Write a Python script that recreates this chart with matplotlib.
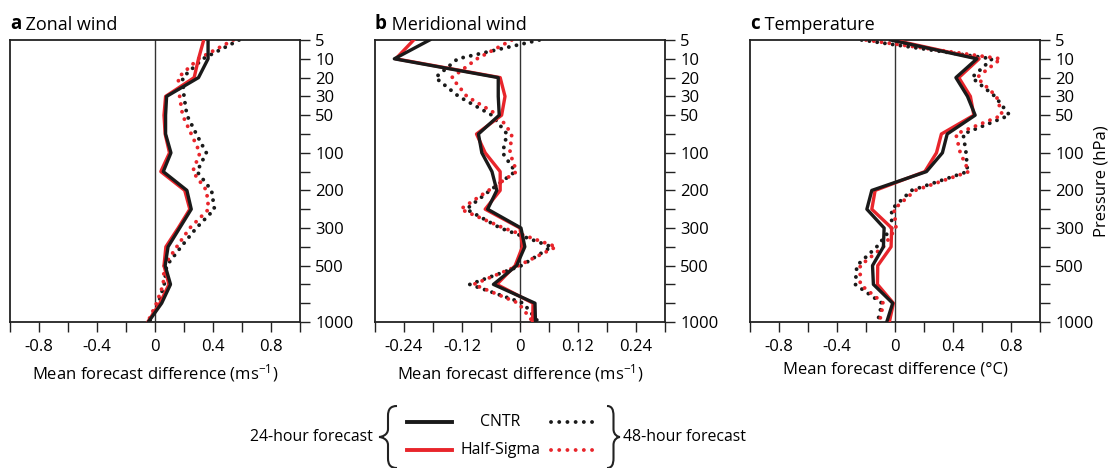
import numpy as np
import matplotlib.pyplot as plt
from matplotlib.path import Path
from matplotlib.patches import PathPatch

plt.rcParams['font.family'] = ['Open Sans', 'DejaVu Sans']
plt.rcParams['mathtext.fontset'] = 'custom'
plt.rcParams['mathtext.rm'] = 'Open Sans'
plt.rcParams['mathtext.it'] = 'Open Sans'

RED = '#E8252B'

levels = [5, 10, 20, 30, 50, 70, 100, 150, 200, 250, 300, 400, 500, 700, 850, 1000]
level_labels = ['5', '10', '20', '30', '50', '', '100', '', '200', '', '300', '', '500', '', '', '1000']

# zonal wind (m/s)
u_cntr_24 = [0.366, 0.366, 0.30, 0.08, 0.073, 0.073, 0.11, 0.057, 0.22, 0.25, 0.17, 0.09, 0.07, 0.107, 0.046, -0.046]
u_half_24 = [0.336, 0.30, 0.27, 0.073, 0.062, 0.07, 0.10, 0.04, 0.205, 0.24, 0.16, 0.075, 0.062, 0.096, 0.034, -0.05]
u_cntr_48 = [0.58, 0.33, 0.19, 0.20, 0.22, 0.285, 0.354, 0.29, 0.39, 0.41, 0.285, 0.18, 0.08, 0.064, 0.023, -0.04]
u_half_48 = [0.54, 0.30, 0.16, 0.17, 0.19, 0.25, 0.31, 0.26, 0.355, 0.37, 0.24, 0.15, 0.064, 0.057, 0.011, -0.05]

# meridional wind (m/s)
v_cntr_24 = [-0.187, -0.26, -0.045, -0.045, -0.043, -0.086, -0.079, -0.058, -0.048, -0.067, 0.002, 0.01, -0.007, -0.055, 0.031, 0.032]
v_half_24 = [-0.22, -0.257, -0.041, -0.031, -0.038, -0.09, -0.072, -0.041, -0.041, -0.072, 0.0, 0.005, -0.01, -0.048, 0.027, 0.026]
v_cntr_48 = [0.04, -0.129, -0.175, -0.127, -0.058, -0.027, -0.036, -0.01, -0.062, -0.111, -0.041, 0.065, 0.003, -0.104, 0.007, 0.038]
v_half_48 = [-0.017, -0.089, -0.141, -0.11, -0.045, -0.017, -0.021, -0.007, -0.065, -0.123, -0.034, 0.075, -0.003, -0.096, -0.003, 0.027]

# temperature (degC)
t_cntr_24 = [-0.03, 0.565, 0.42, 0.50, 0.553, 0.36, 0.327, 0.217, -0.16, -0.194, -0.075, -0.08, -0.155, -0.149, -0.016, -0.057]
t_half_24 = [-0.01, 0.58, 0.44, 0.52, 0.544, 0.32, 0.286, 0.206, -0.137, -0.16, -0.023, -0.027, -0.119, -0.121, -0.011, -0.039]
t_cntr_48 = [-0.23, 0.67, 0.53, 0.69, 0.79, 0.47, 0.49, 0.50, 0.114, -0.023, -0.023, -0.126, -0.263, -0.274, -0.09, -0.12]
t_half_48 = [-0.20, 0.73, 0.565, 0.70, 0.74, 0.42, 0.45, 0.51, 0.14, -0.007, 0.007, -0.08, -0.24, -0.24, -0.08, -0.107]

panels = [
    ('a', 'Zonal wind', u_cntr_24, u_half_24, u_cntr_48, u_half_48, 1.0, 0.2, 0.4, '(ms$^{-1}$)'),
    ('b', 'Meridional wind', v_cntr_24, v_half_24, v_cntr_48, v_half_48, 0.3, 0.06, 0.12, '(ms$^{-1}$)'),
    ('c', 'Temperature', t_cntr_24, t_half_24, t_cntr_48, t_half_48, 1.0, 0.2, 0.4, '(°C)'),
]

W, H = 1113, 468
fig = plt.figure(figsize=(W / 100, H / 100), dpi=100)

lefts = [10, 375, 750]
ypos = np.arange(len(levels))
dot = (0, (0.01, 2.0))
FS = 12
FS_LEG = 11.4

for left, (letter, name, c24, h24, c48, h48, lim, step, lab_step, unit) in zip(lefts, panels):
    ax = fig.add_axes([left / W, 1 - 322 / H, 290 / W, 282 / H])
    ax.axvline(0, color='#333333', lw=1.0, zorder=1)
    ax.plot(c48, ypos, color='#1a1a1a', lw=2.8, linestyle=dot, dash_capstyle='round', zorder=2)
    ax.plot(h48, ypos, color=RED, lw=2.8, linestyle=dot, dash_capstyle='round', zorder=2)
    ax.plot(h24, ypos, color=RED, lw=2.4, zorder=3)
    ax.plot(c24, ypos, color='#1a1a1a', lw=2.4, zorder=4)

    ax.set_ylim(len(levels) - 1, 0)
    ax.set_xlim(-lim, lim)
    ax.yaxis.tick_right()
    ax.set_yticks(ypos)
    ax.set_yticklabels(level_labels)
    xt = np.round(np.arange(-lim, lim + step / 2, step), 3)
    ax.set_xticks(xt)
    labs = []
    for v in xt:
        k = v / lab_step
        if abs(v) < 1e-9:
            labs.append('0')
        elif abs(k - round(k)) < 1e-6 and abs(v) < lim - 1e-9:
            labs.append('%g' % v)
        else:
            labs.append('')
    ax.set_xticklabels(labs)
    ax.tick_params(axis='both', length=7, width=1.0, labelsize=FS, color='#222222')
    ax.tick_params(axis='x', pad=5)
    ax.tick_params(axis='y', pad=4)
    for s in ax.spines.values():
        s.set_linewidth(1.3)
        s.set_color('#222222')
    ax.set_xlabel('Mean forecast difference ' + unit, fontsize=FS, labelpad=5)

    t1 = fig.text(left / W, 1 - 29 / H, letter, fontsize=13.5, fontweight='bold', va='baseline')
    ax.annotate(' ' + name, xy=(1, 0), xycoords=t1, va='bottom', ha='left', fontsize=13)

# y-axis title sits to the right of the last panel
fig.text(1102 / W, 1 - 181 / H, 'Pressure (hPa)', rotation=90, ha='center', va='center', fontsize=FS)

# legend with braces, drawn on an overlay in pixel units
ov = fig.add_axes([0, 0, 1, 1])
ov.set_xlim(0, W)
ov.set_ylim(H, 0)
ov.axis('off')

ov.plot([407, 452], [422, 422], color='#1a1a1a', lw=2.8)
ov.plot([407, 452], [450, 450], color=RED, lw=2.8)
ov.plot([551, 597], [422, 422], color='#1a1a1a', lw=2.8, linestyle=(0, (0.01, 2.1)), dash_capstyle='round')
ov.plot([551, 597], [450, 450], color=RED, lw=2.8, linestyle=(0, (0.01, 2.1)), dash_capstyle='round')
ov.text(500, 422, 'CNTR', ha='center', va='center', fontsize=FS_LEG)
ov.text(500, 450, 'Half-Sigma', ha='center', va='center', fontsize=FS_LEG)
ov.text(373, 437, '24-hour forecast', ha='right', va='center', fontsize=FS_LEG)
ov.text(623, 437, '48-hour forecast', ha='left', va='center', fontsize=FS_LEG)


def brace(x_end, x_tip, y_top, y_mid, y_bot):
    xs = (x_end + x_tip) / 2.0
    d = x_end - xs
    verts = [
        (x_end, y_top),
        (xs + d * 0.3, y_top), (xs, y_top + 3), (xs, y_top + 10),
        (xs, y_mid - 8),
        (xs, y_mid - 2), (x_tip + d * 0.3, y_mid), (x_tip, y_mid),
        (x_tip + d * 0.3, y_mid), (xs, y_mid + 2), (xs, y_mid + 8),
        (xs, y_bot - 10),
        (xs, y_bot - 3), (xs + d * 0.3, y_bot), (x_end, y_bot),
    ]
    codes = [Path.MOVETO, Path.CURVE4, Path.CURVE4, Path.CURVE4, Path.LINETO,
             Path.CURVE4, Path.CURVE4, Path.CURVE4, Path.CURVE4, Path.CURVE4, Path.CURVE4,
             Path.LINETO, Path.CURVE4, Path.CURVE4, Path.CURVE4]
    ov.add_patch(PathPatch(Path(verts, codes), fill=False, lw=1.5, color='#222222'))


brace(397, 379, 406, 437, 468)
brace(607, 620, 406, 437, 468)

fig.savefig('out.png', dpi=100)
